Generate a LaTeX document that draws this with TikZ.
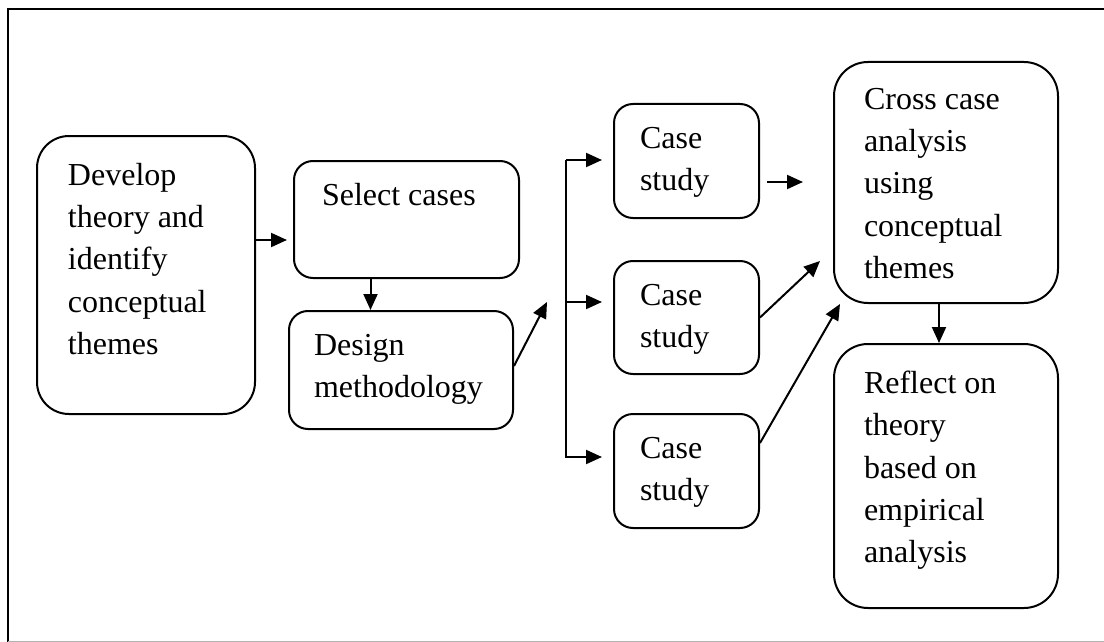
\documentclass[tikz,border=0pt]{standalone}
\usepackage{fontspec}
\setmainfont{Liberation Serif}
\usetikzlibrary{arrows.meta}
\newcommand{\stagetext}[5]{\parbox[c][#2pt][t]{#1pt}{\raggedright\setlength{\leftskip}{#3pt}\vspace*{#4pt}#5}}
\tikzset{
  stage/.style={draw,rounded corners=#1,inner sep=0pt,anchor=north west},
  stage/.default=19pt,
  flow/.style={-{Triangle[length=16pt,width=14pt]}},
}

\begin{document}
\begin{tikzpicture}[x=1pt,y=-1pt,line width=2pt,font=\fontsize{32}{42.25}\selectfont]
  \useasboundingbox (0,0) rectangle (1104,642);
  \draw[line width=2pt] (1105,9) -- (8,9) -- (8,641.5);
  \draw[gray!60,line width=1pt] (8,641.5) -- (1104,641.5);
  \node[stage=32pt] (develop) at (36,135) {\stagetext{218}{278}{31}{27.2}{Develop\\theory and\\identify\\conceptual\\themes}};
  \node[stage] (select) at (293,160) {\stagetext{225}{117}{28}{22.2}{Select cases}};
  \node[stage] (design) at (288,310) {\stagetext{224}{118}{25}{23.2}{Design\\methodology}};
  \node[stage] (case-1) at (613,103) {\stagetext{145}{114}{26}{23.3}{Case\\study}};
  \node[stage] (case-2) at (613,260) {\stagetext{145}{113}{26}{23.3}{Case\\study}};
  \node[stage] (case-3) at (613,413) {\stagetext{145}{114}{26}{23.3}{Case\\study}};
  \node[stage=34pt] (cross) at (833,61) {\stagetext{224}{241}{30}{26.3}{Cross case\\analysis\\using\\conceptual\\themes}};
  \node[stage=34pt] (reflect) at (833,343) {\stagetext{224}{264}{30}{27.2}{Reflect on\\theory\\based on\\empirical\\analysis}};
  \coordinate (select-in) at (287,240);
  \coordinate (fork-in) at (547,302);
  \coordinate (fork-1) at (566,160);
  \coordinate (fork-2) at (566,302);
  \coordinate (fork-3) at (566,457);
  \coordinate (cross-in-1) at (767,182);
  \coordinate (cross-in-2) at (820,261);
  \draw[flow] (develop.east |- select-in) -- (select-in);
  \draw[flow] ([xshift=-36pt]select.south) -- ([xshift=-36pt]select.south |- design.north);
  \draw[flow] ([yshift=4pt]design.east) -- (fork-in);
  \draw[flow] (fork-1) -- ([xshift=-11pt]case-1.west |- fork-1);
  \draw[flow] (fork-2) -- ([xshift=-11pt]case-2.west |- fork-2);
  \draw[flow] (fork-1) -- (fork-3) -- ([xshift=-11pt]case-3.west |- fork-3);
  \draw[flow] (cross-in-1) -- ++(36,0);
  \draw[flow] (case-2.east) -- (cross-in-2);
  \draw[flow] ([yshift=28pt]case-3.east) -- ([xshift=7pt]cross.south west);
  \draw[flow] ([xshift=-7pt]cross.south) -- ([xshift=-7pt]reflect.north);
\end{tikzpicture}
\end{document}
